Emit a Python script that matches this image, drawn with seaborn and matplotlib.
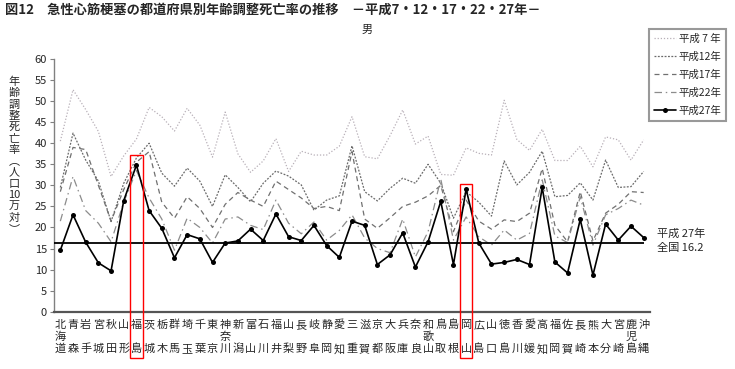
import numpy as np
import pandas as pd
import matplotlib
matplotlib.use('Agg')
import matplotlib.pyplot as plt
import seaborn as sns
from matplotlib.patches import Rectangle

# Data
prefs = ['北海道', '青森', '岩手', '宮城', '秋田', '山形', '福島', '茨城', '栃木', '群馬',
         '埼玉', '千葉', '東京', '神奈川', '新潟', '富山', '石川', '福井', '山梨', '長野',
         '岐阜', '静岡', '愛知', '三重', '滋賀', '京都', '大阪', '兵庫', '奈良', '和歌山',
         '鳥取', '島根', '岡山', '広島', '山口', '徳島', '香川', '愛媛', '高知', '福岡',
         '佐賀', '長崎', '熊本', '大分', '宮崎', '鹿児島', '沖縄']

h7 = [40.5, 52.7, 48.0, 42.8, 32.1, 37.0, 41.0, 48.5, 46.3, 42.9,
      48.3, 44.3, 36.7, 47.4, 37.5, 33.1, 35.8, 41.1, 33.3, 38.1,
      37.2, 37.2, 39.3, 46.3, 36.8, 36.3, 41.8, 47.9, 39.8, 41.7,
      32.6, 32.4, 38.9, 37.6, 37.2, 50.2, 40.9, 38.3, 43.3, 35.9,
      35.9, 39.3, 34.4, 41.5, 40.8, 36.0, 40.8]
h12 = [29.5, 42.4, 36.0, 31.0, 21.4, 30.5, 36.5, 40.0, 32.9, 29.8,
       34.1, 31.0, 25.0, 32.5, 29.5, 26.1, 30.5, 33.4, 32.2, 30.1,
       24.1, 26.5, 27.5, 39.4, 28.5, 26.3, 29.3, 31.7, 30.5, 35.0,
       30.5, 22.2, 28.5, 26.0, 22.7, 35.8, 30.1, 33.1, 38.1, 27.3,
       27.6, 30.6, 26.5, 36.0, 29.5, 29.7, 33.3]
h17 = [28.5, 39.0, 38.5, 30.0, 21.5, 29.0, 35.5, 38.0, 26.0, 22.2,
       27.3, 24.5, 20.0, 25.5, 28.3, 26.5, 25.0, 31.0, 29.0, 27.0,
       24.5, 25.0, 24.0, 38.0, 22.0, 19.8, 22.3, 25.0, 26.0, 27.5,
       30.0, 19.0, 26.5, 21.5, 19.6, 21.8, 21.4, 23.4, 34.0, 20.5,
       16.6, 28.5, 16.8, 23.4, 25.5, 28.5, 28.3]
h22 = [21.5, 32.1, 24.0, 21.0, 16.6, 26.0, 33.5, 27.0, 22.0, 14.6,
       22.2, 20.0, 16.3, 22.0, 22.5, 20.5, 19.5, 26.5, 21.0, 18.5,
       21.3, 17.0, 19.3, 23.0, 17.5, 15.0, 14.0, 22.0, 13.0, 19.0,
       31.5, 17.0, 22.5, 17.8, 15.8, 19.4, 17.0, 18.6, 31.3, 18.0,
       16.4, 27.3, 15.8, 23.0, 24.5, 26.5, 25.3]
h27 = [14.6, 23.0, 16.5, 11.6, 9.7, 26.4, 34.8, 24.0, 19.8, 12.8,
       18.3, 17.3, 11.7, 16.3, 16.8, 19.6, 16.9, 23.2, 17.8, 16.9,
       20.5, 15.7, 12.9, 21.5, 20.5, 11.2, 13.5, 18.7, 10.6, 16.6,
       26.2, 11.2, 29.1, 16.3, 11.3, 11.7, 12.4, 11.2, 29.5, 11.8,
       9.2, 21.9, 8.7, 20.8, 17.0, 20.3, 17.6]

series_labels = ['平成 7 年', '平成12年', '平成17年', '平成22年', '平成27年']
national_avg = 16.2
highlight = ['福島', '岡山']
highlight_top = [37.2, 30.3]

df = pd.DataFrame({'pos': np.arange(len(prefs)), 'h7': h7, 'h12': h12,
                   'h17': h17, 'h22': h22, 'h27': h27})

sns.set_style('white')
plt.rcParams['font.family'] = ['Noto Sans CJK JP', 'DejaVu Sans']

W, H = 735, 369
fig = plt.figure(figsize=(7.35, 3.69), dpi=100)
ax = fig.add_axes([54 / W, 1 - 311.7 / H, (650 - 54) / W, (311.7 - 59) / H])

styles = [
    ('h7', dict(color='#b8b0b8', linestyle=(0, (1, 1.5)), linewidth=0.9)),
    ('h12', dict(color='#6a6a6a', linestyle=(0, (1.5, 1.2)), linewidth=0.9)),
    ('h17', dict(color='#707070', linestyle=(0, (4, 3)), linewidth=0.9)),
    ('h22', dict(color='#8c8c8c', linestyle=(0, (6, 3, 1.2, 3)), linewidth=0.9)),
    ('h27', dict(color='black', linestyle='-', linewidth=1.2, marker='o',
                 markersize=3.6, markeredgewidth=0)),
]
for (col, kw), lab in zip(styles, series_labels):
    sns.lineplot(data=df, x='pos', y=col, ax=ax, label=lab, **kw)

# national average line
ax.hlines(national_avg, -0.5, len(prefs) - 1, color='black', linewidth=1.3, zorder=3)

ax.set_xlim(-0.5, len(prefs) - 0.5)
ax.set_ylim(0, 60)
ax.set_yticks(np.arange(0, 61, 5))
ax.set_xticks([])
ax.set_xlabel('')
ax.set_ylabel('')
ax.tick_params(axis='y', left=True, length=3, width=0.8, color='#808080',
               labelsize=8, pad=2)
for s in ['top', 'right']:
    ax.spines[s].set_visible(False)
ax.spines['left'].set_color('#808080')
ax.spines['left'].set_linewidth(1.0)
ax.spines['bottom'].set_color('#555555')
ax.spines['bottom'].set_linewidth(1.6)

# prefecture labels, stacked vertically
row_y = [325, 337, 349]
for i, name in enumerate(prefs):
    rows = [0, 1, 2] if len(name) == 3 else [0, 2]
    for ch, r in zip(name, rows):
        ax.text(i, 1 - (row_y[r] - 59) / (311.7 - 59), ch,
                transform=ax.get_xaxis_transform(), ha='center', va='center',
                fontsize=8)

# highlight boxes
for name, top in zip(highlight, highlight_top):
    idx = prefs.index(name)
    bottom = -11.0
    ax.add_patch(Rectangle((idx - 0.5, bottom), 1.0, top - bottom, fill=False,
                           edgecolor='red', linewidth=1.0, clip_on=False, zorder=5))

# national average label
fig.text(657 / W, 1 - 234 / H, '平成 27年', fontsize=8, va='center', ha='left')
fig.text(657 / W, 1 - 248 / H, '全国 16.2', fontsize=8, va='center', ha='left')

# y label, vertical characters
ylab = ['年', '齢', '調', '整', '死', '亡', '率', '︵', '人', '口', '10', '万', '対', '︶']
for k, ch in enumerate(ylab):
    fig.text(14 / W, 1 - (82 + k * 11.3) / H, ch, fontsize=8, ha='center', va='center')

# titles
fig.text(5 / W, 1 - 10 / H, '図12　急性心筋梗塞の都道府県別年齢調整死亡率の推移　－平成7・12・17・22・27年－',
         fontsize=9.5, fontweight='bold', ha='left', va='center')
fig.text(367 / W, 1 - 30 / H, '男', fontsize=8, ha='center', va='center')

leg = ax.legend(loc='upper left', bbox_to_anchor=(649 / W, 1 - 29 / H),
                bbox_transform=fig.transFigure, fontsize=7.5, frameon=True,
                fancybox=False, edgecolor='#808080', handlelength=2.1,
                handletextpad=0.3, borderpad=0.45, labelspacing=0.75,
                borderaxespad=0)
leg.get_frame().set_linewidth(1.5)

fig.savefig('out.png', dpi=100)
